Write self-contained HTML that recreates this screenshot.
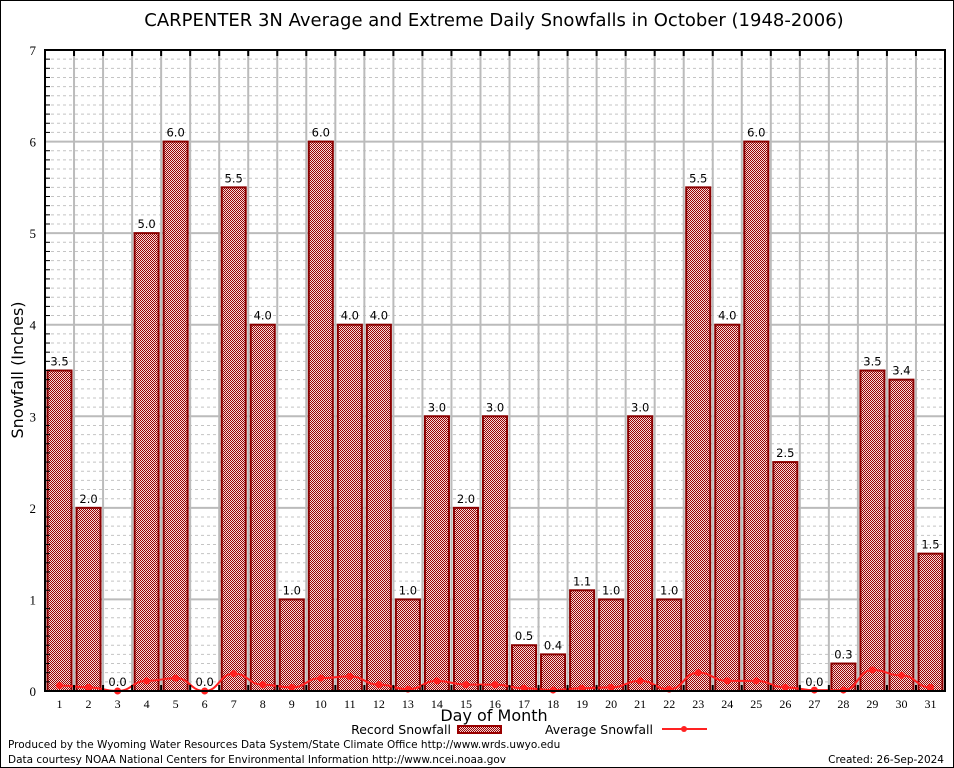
<!DOCTYPE html>
<html><head><meta charset="utf-8"><style>
body{margin:0;background:#fff}
svg{display:block;font-family:"DejaVu Sans","Liberation Sans",sans-serif}
</style></head><body>
<svg id="chart" width="954" height="768" viewBox="0 0 954 768">
<defs>
<pattern id="chk" width="2" height="2" patternUnits="userSpaceOnUse">
<rect width="2" height="2" fill="#f4dcdc"/><rect width="1" height="1" fill="#9a0000"/><rect x="1" y="1" width="1" height="1" fill="#9a0000"/>
</pattern>
</defs>
<rect x="0.5" y="0.5" width="953" height="767" fill="#fff" stroke="#000"/>
<text x="494" y="26" font-size="18" text-anchor="middle">CARPENTER 3N Average and Extreme Daily Snowfalls in October (1948-2006)</text>
<g id="grid"></g><g id="bars"></g><g id="line"></g><g id="axes"></g>
<text x="23" y="370" font-size="16" text-anchor="middle" transform="rotate(-90 23 370)">Snowfall (Inches)</text>
<text x="494" y="721" font-size="16" text-anchor="middle">Day of Month</text>
<g>
<text x="451" y="734" font-size="12.5" text-anchor="end">Record Snowfall</text>
<rect x="458" y="726" width="43" height="7" fill="url(#chk)" stroke="#900" stroke-width="2"/>
<text x="653" y="734" font-size="12.5" text-anchor="end">Average Snowfall</text>
<line x1="662" y1="729" x2="707" y2="729" stroke="#f22" stroke-width="2"/>
<circle cx="684" cy="729" r="3" fill="#f22"/>
</g>
<text x="8" y="748" font-size="10.5">Produced by the Wyoming Water Resources Data System/State Climate Office http://www.wrds.uwyo.edu</text>
<text x="8" y="763" font-size="10.5">Data courtesy NOAA National Centers for Environmental Information http://www.ncei.noaa.gov</text>
<text x="944" y="763" font-size="10.5" text-anchor="end">Created: 26-Sep-2024</text>
</svg>
<script>
const days=[1,2,3,4,5,6,7,8,9,10,11,12,13,14,15,16,17,18,19,20,21,22,23,24,25,26,27,28,29,30,31];
const recordSnow=[3.5,2.0,0.0,5.0,6.0,0.0,5.5,4.0,1.0,6.0,4.0,4.0,1.0,3.0,2.0,3.0,0.5,0.4,1.1,1.0,3.0,1.0,5.5,4.0,6.0,2.5,0.0,0.3,3.5,3.4,1.5];
const avgSnow=[0.06,0.04,0.0,0.11,0.14,0.0,0.19,0.07,0.04,0.14,0.16,0.07,0.02,0.11,0.07,0.07,0.03,0.01,0.03,0.04,0.11,0.02,0.2,0.11,0.11,0.04,0.01,0.01,0.23,0.17,0.04];
const yTicks=[0,1,2,3,4,5,6,7];
const NS="http://www.w3.org/2000/svg";
const L=45,R=945,T=50,B=691,yMax=7;
const cw=(R-L)/days.length;
const xC=i=>L+cw*(i+0.5);
const y=v=>B-(B-T)*v/yMax;
function mk(tag,attrs,parent,text){const e=document.createElementNS(NS,tag);for(const k in attrs)e.setAttribute(k,attrs[k]);if(text!==undefined)e.textContent=text;document.getElementById(parent).appendChild(e);return e;}
for(let k=1;k<yMax*10;k++){if(k%10===0)continue;const v=k/10;
const g=mk('line',{x1:L,x2:R,y1:y(v),y2:y(v),stroke:'#c4c4c4','stroke-dasharray':'3,3','stroke-width':1},'grid');


const t=mk('line',{x1:L,x2:L+5,y1:y(v),y2:y(v),stroke:'#000'},'axes');

}
yTicks.forEach(v=>{
const g=mk('line',{x1:L,x2:R,y1:y(v),y2:y(v),stroke:'#bbb','stroke-width':2},'grid');


const t=mk('text',{x:L-9,y:y(v)+5,'font-size':13,'text-anchor':'end','font-family':'Liberation Serif, serif'},'axes',String(v));

});
for(let i=1;i<days.length;i++){const x=L+cw*i;
const g=mk('line',{x1:x,x2:x,y1:T,y2:B,stroke:'#bbb','stroke-width':2},'grid');


const t1=mk('line',{x1:x,x2:x,y1:T,y2:T+6,stroke:'#000','stroke-width':2},'axes');


const t2=mk('line',{x1:x,x2:x,y1:B,y2:B-6,stroke:'#000','stroke-width':2},'axes');

}
days.forEach((d,i)=>{const v=recordSnow[i];const bw=cw-5;
if(v>0){const b=mk('rect',{x:xC(i)-bw/2,y:y(v),width:bw,height:B-y(v),fill:'url(#chk)',stroke:'#8a0000','stroke-width':2},'bars');

}
const lb=mk('text',{x:xC(i),y:y(v)-5,'font-size':11.5,'text-anchor':'middle'},'bars',v.toFixed(1));


const xl=mk('text',{x:xC(i),y:B+17,'font-size':12,'text-anchor':'middle','font-family':'Liberation Serif, serif'},'axes',String(d));

});
let pts=avgSnow.map((v,i)=>[xC(i),y(v)]);
let dstr='M'+pts[0].join(',');
for(let i=1;i<pts.length;i++){const p0=pts[i-1],p1=pts[i],mx=(p0[0]+p1[0])/2;dstr+=` C${mx},${p0[1]} ${mx},${p1[1]} ${p1[0]},${p1[1]}`;}
const ln=mk('path',{d:dstr,fill:'none',stroke:'#ff2020','stroke-width':2},'line');


pts.forEach(p=>{const c=mk('circle',{cx:p[0],cy:p[1],r:3.5,fill:'#ff2020'},'line');

});
const fr=mk('rect',{x:L,y:T,width:R-L,height:B-T,fill:'none',stroke:'#000','stroke-width':2},'axes');


</script>
</body></html>
